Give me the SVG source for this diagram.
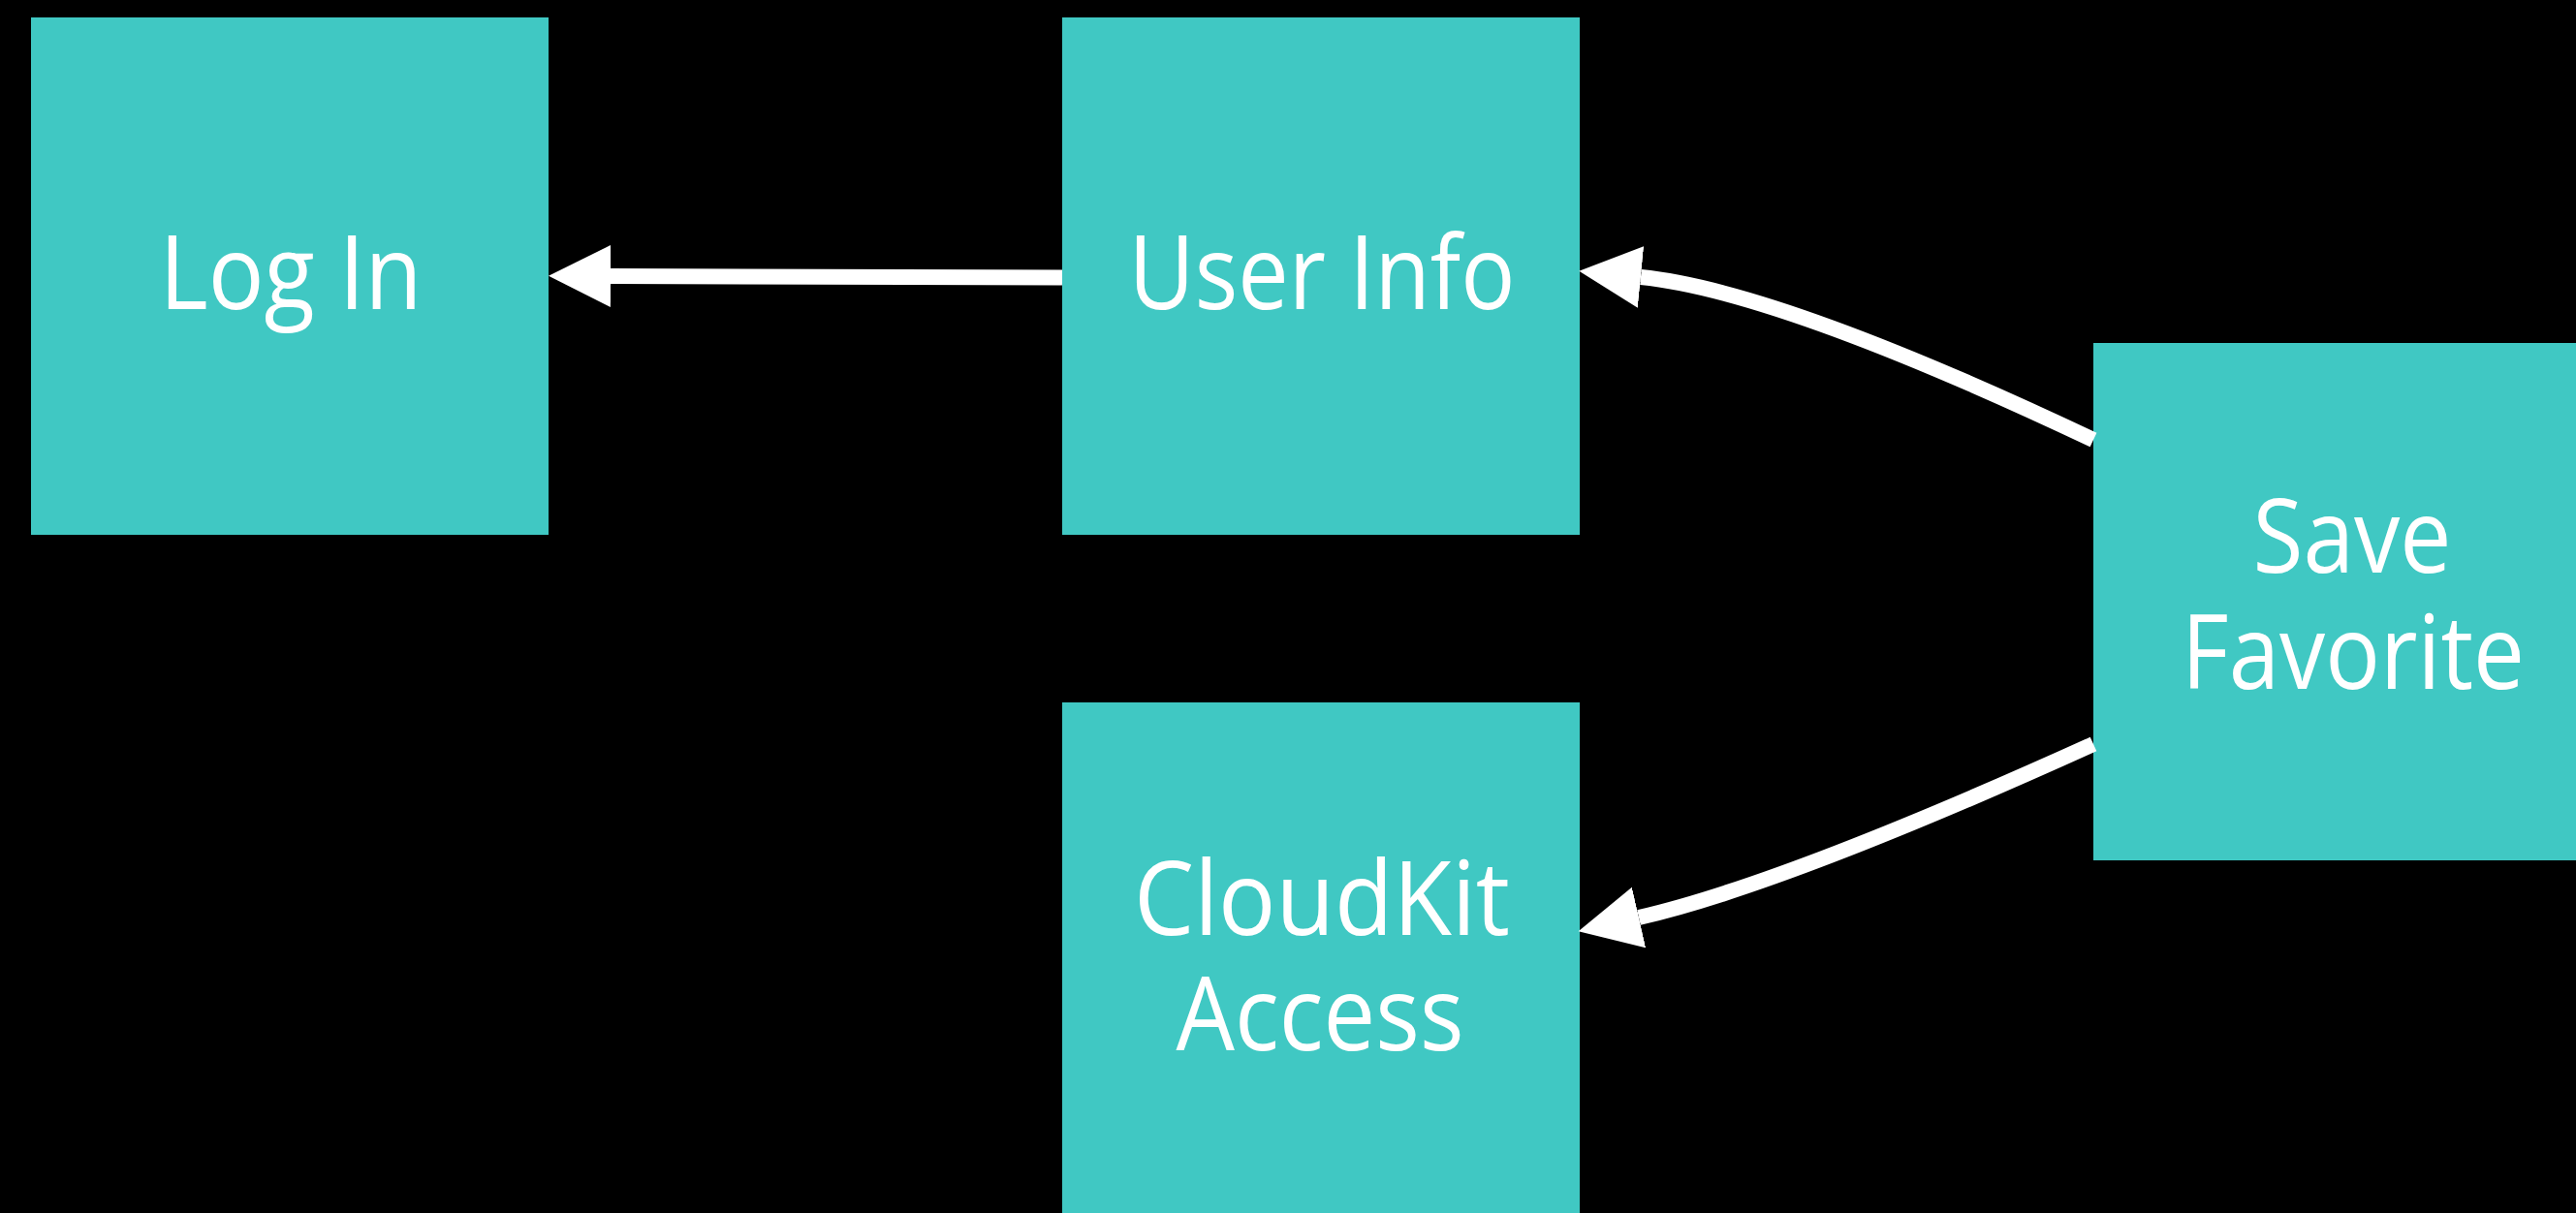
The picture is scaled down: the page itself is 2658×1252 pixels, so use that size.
<svg xmlns="http://www.w3.org/2000/svg" width="2658" height="1252" viewBox="0 0 2658 1252">
  <style>
    .box { fill: #40C8C3; }
    .lbl { fill: #FFFFFF; font-family: "Open Sans", "Noto Sans", "Liberation Sans", sans-serif; font-size: 106px; text-anchor: middle; }
    .conn { fill: none; stroke: #FFFFFF; stroke-width: 16; stroke-linecap: butt; marker-end: url(#head); }
  </style>
  <defs>
    <marker id="head" markerUnits="userSpaceOnUse" viewBox="0 -34 66 68" refX="0" refY="0" markerWidth="66" markerHeight="68" orient="auto">
      <path d="M0,-32 L64,0 L0,32 Z" fill="#FFFFFF"/>
    </marker>
  </defs>
  <rect x="0" y="0" width="2658" height="1252" fill="#000000"/>

  <g id="node-login">
    <rect class="box" x="32" y="18" width="534" height="534"/>
    <text class="lbl" x="300" y="319" textLength="271" lengthAdjust="spacingAndGlyphs">Log In</text>
  </g>

  <g id="node-userinfo">
    <rect class="box" x="1096" y="18" width="534" height="534"/>
    <text class="lbl" x="1364" y="319" textLength="399" lengthAdjust="spacingAndGlyphs">User Info</text>
  </g>

  <g id="node-savefavorite">
    <rect class="box" x="2160" y="354" width="534" height="534"/>
    <text class="lbl" x="2427" y="591" textLength="205" lengthAdjust="spacingAndGlyphs">Save</text>
    <text class="lbl" x="2428" y="711" textLength="354" lengthAdjust="spacingAndGlyphs">Favorite</text>
  </g>

  <g id="node-cloudkit">
    <rect class="box" x="1096" y="725" width="534" height="534"/>
    <text class="lbl" x="1364" y="965" textLength="388" lengthAdjust="spacingAndGlyphs">CloudKit</text>
    <text class="lbl" x="1362" y="1084" textLength="297" lengthAdjust="spacingAndGlyphs">Access</text>
  </g>

  <g id="connectors">
    <path class="conn" d="M1096,286.5 L630,285"/>
    <path class="conn" d="M2160,454 Q1835,300 1693,286"/>
    <path class="conn" d="M2160,768 Q1840,913 1691,947"/>
  </g>
</svg>
